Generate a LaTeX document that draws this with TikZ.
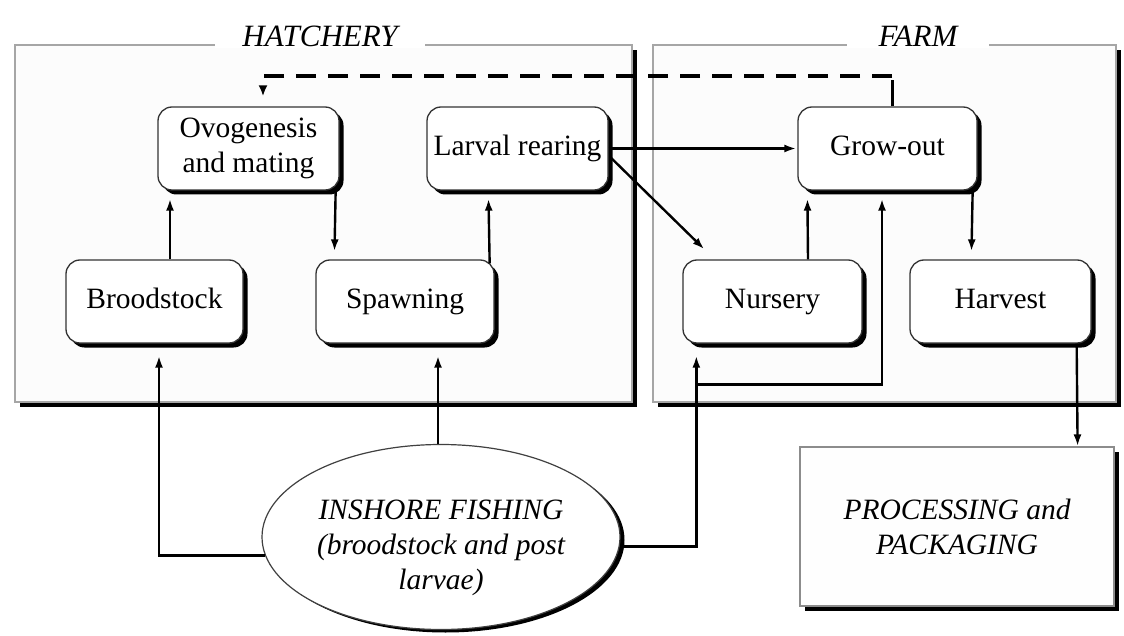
\documentclass[tikz,border=0pt]{standalone}
\usepackage{fontspec}
\setmainfont{Liberation Serif}
\usetikzlibrary{arrows.meta,shapes.geometric,shadows,calc}
\begin{document}
\begin{tikzpicture}[x=1pt,y=-1pt,
  blackshadow/.style={drop shadow={shadow xshift=4.5pt, shadow yshift=-4.5pt, fill=black, opacity=1}},
  bigshadow/.style={drop shadow={shadow xshift=5pt, shadow yshift=-5pt, fill=black, opacity=1}},
  container/.style={draw=black!35, line width=1.2pt, fill=black!1, bigshadow, inner sep=0pt},
  title/.style={fill=white, inner ysep=2pt, font=\fontsize{31}{36}\selectfont\itshape},
  stage/.style={rectangle, rounded corners=14pt, draw=black!80, line width=1.3pt, fill=white, blackshadow,
    minimum height=83pt, inner sep=0pt, align=center, font=\fontsize{29.5}{35}\selectfont},
  oneline/.style={text height=20pt, text depth=6pt},
  conn/.style={line width=2.4pt, -{Latex[length=12pt,width=8pt]}},
  dashc/.style={line width=4.5pt, dash pattern=on 20pt off 12pt, -{Latex[length=11pt,width=9pt]}},
  ]
\useasboundingbox (0,0) rectangle (1124,636);
\fill[white] (0,0) rectangle (1124,636);

% containers
\node[container, minimum width=617pt, minimum height=357pt] (hatch) at (323.5,223.5) {};
\node[container, minimum width=463pt, minimum height=357pt] (farm) at (884.5,223.5) {};
\node[title, inner xsep=27pt] (hatchT) at (320,36) {HATCHERY};
\node[title, inner xsep=32pt] (farmT) at (918,36) {FARM};

% stages
\node[stage, minimum width=181pt] (ovo) at (248.5,148.5) {Ovogenesis\\and mating};
\node[stage, oneline, minimum width=181pt] (larv) at (517.5,148.5) {Larval rearing};
\node[stage, oneline, minimum width=177pt] (brood) at (154.5,301.5) {Broodstock};
\node[stage, oneline, minimum width=178pt] (spawn) at (405,301.5) {Spawning};
\node[stage, oneline, minimum width=179pt] (grow) at (887.5,148.5) {Grow-out};
\node[stage, oneline, minimum width=179pt] (nurs) at (772.5,301.5) {Nursery};
\node[stage, oneline, minimum width=181pt] (harv) at (1000.5,301.5) {Harvest};

% processing and fishing
\node[container, draw=black!45, fill=black!0.5, minimum width=314pt, minimum height=159pt, align=center,
  font=\fontsize{29.5}{35}\selectfont\itshape] (proc) at (957,526.5) {PROCESSING and\\PACKAGING};
\node[ellipse, draw=black!75, line width=1.2pt, fill=white,
  drop shadow={shadow xshift=4.5pt, shadow yshift=-3pt, fill=black, opacity=1},
  minimum width=358pt, minimum height=185pt, inner sep=0pt] (ell) at (441,537) {};
\node[align=center, font=\fontsize{29.5}{35}\selectfont\itshape] (ellT) at (441,548)
  {INSHORE FISHING\\(broodstock and post\\larvae)};

% hatchery connectors
\draw[conn, shorten >=8pt] ($(brood.north)+(15.5,0)$) -- ($(ovo.south)+(-78.5,0)$);
\draw[conn, shorten >=8pt] ($(ovo.south east)+(-4,0)$) -- ($(spawn.north west)+(19,0)$);
\draw[conn, shorten >=8pt] ($(spawn.north east)+(-5,4)$) -- ($(larv.south west)+(62,0)$);

% farm connectors
\draw[conn, shorten >=1pt] (larv.east) -- (grow.west);
\draw[conn] ($(larv.east)+(2,9)$) -- ($(nurs.north west)+(22,-10)$);
\draw[conn, shorten >=8pt] ($(nurs.north)+(35.5,0)$) -- ($(grow.south west)+(10,0)$);
\draw[conn, shorten >=8pt] ($(grow.south east)+(-5,0)$) -- ($(harv.north west)+(62,0)$);
\draw[conn] ($(harv.south east)+(-15,0)$) -- ($(proc.north east)+(-37,0)$);

% dashed feedback
\coordinate (dTop) at (892,76);
\draw[line width=3pt] ($(grow.north)+(4.5,0)$) -- ($(dTop)+(0,4)$);
\draw[dashc, shorten >=10pt] (dTop) -| ($(ovo.north)+(14.5,0)$);

% inshore fishing supplies
\draw[conn, shorten >=12pt] (ell.186.5) -| ($(brood.south)+(4.5,0)$);
\draw[conn, shorten >=12pt] ($(ell.north)+(-3,0)$) -- ($(spawn.south)+(33,0)$);
\draw[conn, shorten >=12pt] (ell.-3.5) -| ($(nurs.south west)+(14,0)$);
\coordinate (junc) at ($(nurs.south west)+(14,41)$);
\draw[conn, shorten >=8pt] (junc) -| ($(grow.south)+(-5.5,0)$);
\end{tikzpicture}
\end{document}
